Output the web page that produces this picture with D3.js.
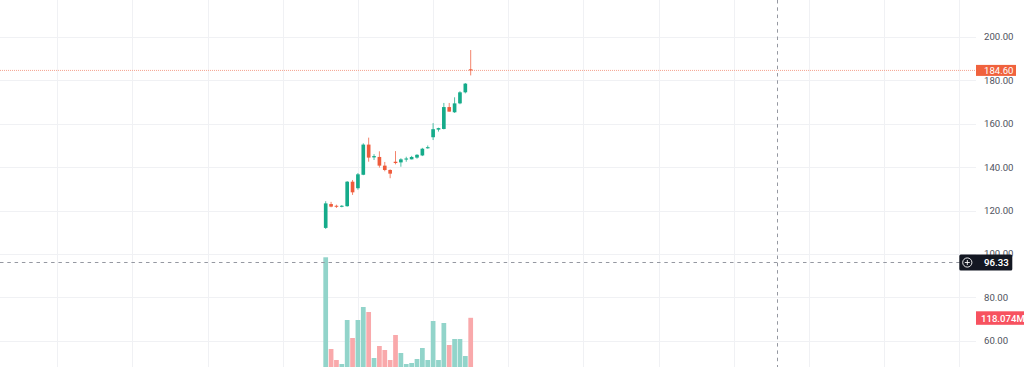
<!DOCTYPE html>
<html><head><meta charset="utf-8">
<script src="https://cdn.jsdelivr.net/npm/d3@7"></script>
<style>html,body{margin:0;padding:0;background:#fff;overflow:hidden}svg{display:block}</style>
</head><body><svg id="c" width="1024" height="367"></svg>
<script>
// ---- data ----
const opens  = [112.0,123.0,122.2,121.8,122.0,133.3,130.3,136.5,150.4,144.5,144.7,140.7,138.7,142.5,142.2,143.5,143.6,144.4,145.4,148.7,153.8,157.3,157.6,167.7,165.3,169.4,174.5,185.1];
const highs  = [124.3,124.0,122.7,122.5,133.6,134.1,137.3,151.0,153.6,146.0,147.3,142.4,139.0,147.4,144.1,144.8,145.2,146.0,148.9,150.0,160.3,158.2,169.6,169.6,172.2,175.0,178.8,194.0];
const lows   = [111.5,121.5,121.2,121.5,121.8,127.2,129.6,136.3,142.5,143.3,139.8,138.1,134.9,141.3,140.2,142.5,143.6,143.9,145.1,148.5,152.5,156.4,157.4,165.6,165.0,169.0,174.0,182.3];
const closes = [123.3,121.8,121.8,122.2,133.3,128.4,136.7,150.4,144.4,145.1,140.7,138.7,137.0,141.9,143.6,144.0,144.7,145.7,148.5,149.2,157.5,158.0,167.7,165.6,169.4,174.5,178.5,184.6];
const volumes = [263.3,43.2,16.8,7.2,112.8,69.6,112.8,144,132,21.6,50.4,40.8,16.8,76.8,33.6,7.2,9.6,19.2,45.6,16.8,110.4,16.8,105.6,52.8,67.2,67.2,26.4,118.074];
const priceTicks = [60,80,100,120,140,160,180,200];
const timeGridIdx = [-50,-36,-22,-8,6,20,34,48,62,76,90,104,118];
const lastPrice = 184.60;
const lastVolumeLabel = "118.074M";
const crossIndex = 84;
const crossPrice = 96.33;

// ---- layout ----
const W = 1024, H = 367, paneRight = 976;
const upC = "#15ab8a", downC = "#ef5b3b";
const volUp = "#92d4ca", volDown = "#f9a9ab";

const svg = d3.select("#c");
const x = d3.scaleLinear().domain([0, 27]).range([325.7, 470.7]);
const y = d3.scaleLinear().domain([60, 200]).range([340.7, 37]);
const yv = d3.scaleLinear().domain([0, 118.074]).range([367, 317.8]);
const step = x(1) - x(0);

svg.append("rect").attr("width", W).attr("height", H).attr("fill", "#fff");

// grid
const g = svg.append("g");
g.selectAll("line.h").data(priceTicks).join("line")
  .attr("x1", 0).attr("x2", paneRight)
  .attr("y1", d => Math.round(y(d)) + 0.5).attr("y2", d => Math.round(y(d)) + 0.5)
  .attr("stroke", "#f0f1f4").attr("stroke-width", 1);
g.selectAll("line.v").data(timeGridIdx).join("line")
  .attr("x1", d => Math.round(x(d)) + 0.5).attr("x2", d => Math.round(x(d)) + 0.5)
  .attr("y1", 0).attr("y2", H)
  .attr("stroke", "#f0f1f4").attr("stroke-width", 1);

// volume
const idx = d3.range(opens.length);
svg.append("g").selectAll("rect").data(idx).join("rect")
  .attr("x", i => x(i) - step * 0.44)
  .attr("width", step * 0.88)
  .attr("y", i => yv(volumes[i]))
  .attr("height", i => yv(0) - yv(volumes[i]))
  .attr("fill", i => closes[i] >= opens[i] ? volUp : volDown);

// last price line
svg.append("line")
  .attr("x1", 0).attr("x2", paneRight)
  .attr("y1", y(lastPrice)).attr("y2", y(lastPrice))
  .attr("stroke", "#f4a38f").attr("stroke-width", 1).attr("stroke-dasharray", "1,1");

// candles
const cg = svg.append("g");
cg.selectAll("line").data(idx).join("line")
  .attr("x1", i => x(i)).attr("x2", i => x(i))
  .attr("y1", i => y(highs[i])).attr("y2", i => y(lows[i]))
  .attr("stroke", i => closes[i] >= opens[i] ? upC : downC)
  .attr("stroke-opacity", 0.75).attr("stroke-width", 1);
cg.selectAll("rect").data(idx).join("rect")
  .attr("x", i => x(i) - step * 0.34)
  .attr("width", step * 0.68)
  .attr("y", i => y(Math.max(opens[i], closes[i])))
  .attr("height", i => Math.max(1, Math.abs(y(opens[i]) - y(closes[i]))))
  .attr("fill", i => closes[i] >= opens[i] ? upC : downC);

// crosshair
svg.append("line")
  .attr("x1", Math.round(x(crossIndex)) + 0.5).attr("x2", Math.round(x(crossIndex)) + 0.5)
  .attr("y1", 0).attr("y2", H)
  .attr("stroke", "#9598a1").attr("stroke-dasharray", "3.5,3.8");
svg.append("line")
  .attr("x1", 0).attr("x2", paneRight)
  .attr("y1", Math.round(y(crossPrice)) + 0.5).attr("y2", Math.round(y(crossPrice)) + 0.5)
  .attr("stroke", "#9598a1").attr("stroke-dasharray", "3.5,3.8");

// price axis labels
const font = "Roboto, 'Liberation Sans', sans-serif";
svg.append("g").selectAll("text").data(priceTicks).join("text")
  .attr("x", 984).attr("y", d => y(d))
  .attr("dy", "0.35em")
  .attr("font-family", font).attr("font-size", 9.6)
  .attr("fill", "#50535e")
  .text(d => d3.format(".2f")(d));

// last price label
const lp = y(lastPrice);
svg.append("rect").attr("x", paneRight).attr("y", lp - 5.5).attr("width", 40).attr("height", 11)
  .attr("fill", "#f0623d");
svg.append("text").attr("x", 984).attr("y", lp).attr("dy", "0.35em")
  .attr("font-family", font).attr("font-size", 9.6).attr("fill", "#fff")
  .text(d3.format(".2f")(lastPrice));

// last volume label
const lv = yv(volumes[volumes.length - 1]);
svg.append("rect").attr("x", paneRight).attr("y", lv - 6.5).attr("width", 50).attr("height", 13.5)
  .attr("fill", "#f7525f");
svg.append("text").attr("x", 981).attr("y", lv + 0.5).attr("dy", "0.35em")
  .attr("font-family", font).attr("font-size", 9.6).attr("font-weight", 500).attr("fill", "#fff")
  .text(lastVolumeLabel);

// crosshair price label
const cp = Math.round(y(crossPrice)) + 0.5;
svg.append("rect").attr("x", 959.3).attr("y", cp - 8).attr("width", 53).attr("height", 16)
  .attr("rx", 1.5).attr("fill", "#131722");
svg.append("circle").attr("cx", 967.3).attr("cy", cp).attr("r", 4.6)
  .attr("fill", "none").attr("stroke", "#fff").attr("stroke-width", 0.9);
svg.append("path").attr("d", `M964.8,${cp}H969.8M967.3,${cp - 2.5}V${cp + 2.5}`)
  .attr("stroke", "#fff").attr("stroke-width", 0.9);
svg.append("text").attr("x", 984).attr("y", cp).attr("dy", "0.35em")
  .attr("font-family", font).attr("font-size", 9.6).attr("font-weight", 600).attr("fill", "#fff")
  .text(d3.format(".2f")(crossPrice));
</script>
</body></html>
